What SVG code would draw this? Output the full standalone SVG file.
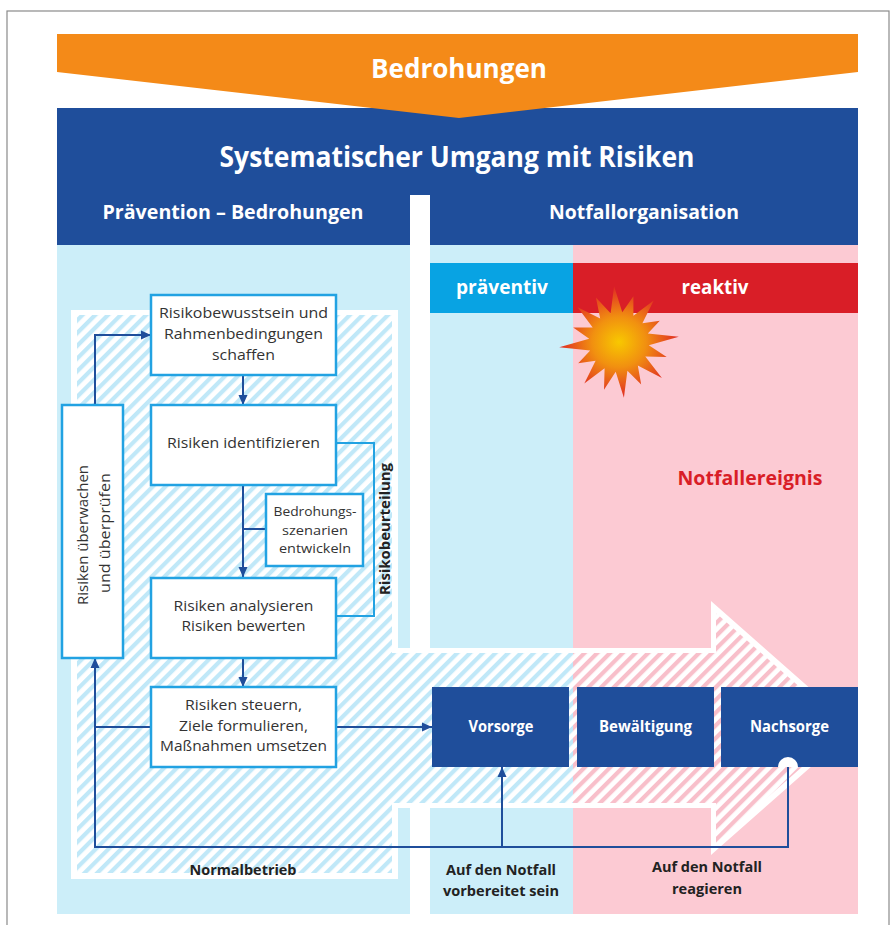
<svg xmlns="http://www.w3.org/2000/svg" width="890" height="925" viewBox="0 0 890 925">
<style>
.t{font-family:"Open Sans","Noto Sans","Liberation Sans",sans-serif;}
.hb{font-weight:bold;fill:#fff;text-anchor:middle;}
.bx{fill:#fff;stroke:#22a2e2;stroke-width:2.5;}
.bt{font-size:15px;fill:#333;text-anchor:middle;}
.sm{font-size:13px;}
.bd{font-weight:bold;fill:#222;text-anchor:middle;font-size:15px;}
.db{fill:#1f4e9b;}
.con{fill:none;stroke:#1f4e9b;stroke-width:2;}
</style>
<defs>
<marker id="ah" markerUnits="userSpaceOnUse" markerWidth="10" markerHeight="10" refX="10" refY="5" orient="auto">
<path d="M0,0.5 L10,5 L0,9.5 Z" fill="#1f4e9b"/>
</marker>
<pattern id="hblue" patternUnits="userSpaceOnUse" width="9" height="9" patternTransform="rotate(45)">
<rect width="9" height="9" fill="#fff"/>
<rect width="4.2" height="9" fill="#c0e8f8"/>
</pattern>
<pattern id="hpink" patternUnits="userSpaceOnUse" width="9" height="9" patternTransform="rotate(45)">
<rect width="9" height="9" fill="#fff"/>
<rect width="4.2" height="9" fill="#f8bfca"/>
</pattern>
<clipPath id="cl"><rect x="0" y="0" width="573" height="925"/></clipPath>
<clipPath id="cr"><rect x="573" y="0" width="317" height="925"/></clipPath>
<radialGradient id="boom" cx="0.5" cy="0.5" r="0.5">
<stop offset="0" stop-color="#f8c800"/>
<stop offset="0.45" stop-color="#f19010"/>
<stop offset="1" stop-color="#e02a24"/>
</radialGradient>
</defs>

<rect x="7" y="11" width="882" height="940" fill="#fff" stroke="#8a8a8a" stroke-width="1.2"/>

<g id="header">
<rect x="57" y="108" width="801" height="137" class="db"/>
<polygon points="57,34 858,34 858,72 459,118 57,72" fill="#f48a18"/>
<rect x="410" y="195" width="20" height="50" fill="#fff"/>
<text class="t hb" x="459" y="78" font-size="26" textLength="176" lengthAdjust="spacingAndGlyphs">Bedrohungen</text>
<text class="t hb" x="457" y="167" font-size="28" textLength="475" lengthAdjust="spacingAndGlyphs">Systematischer Umgang mit Risiken</text>
<text class="t hb" x="233" y="219" font-size="19" textLength="261" lengthAdjust="spacingAndGlyphs">Prävention – Bedrohungen</text>
<text class="t hb" x="644" y="219" font-size="19" textLength="190" lengthAdjust="spacingAndGlyphs">Notfallorganisation</text>
</g>

<g id="panels">
<rect x="57" y="245" width="353" height="669" fill="#cceef9"/>
<rect x="430" y="245" width="143" height="669" fill="#cceef9"/>
<rect x="573" y="245" width="285" height="669" fill="#fccad3"/>
</g>

<g id="praeventiv">
<rect x="430" y="263" width="143" height="50" fill="#08a3e3"/>
<text class="t hb" x="502" y="294" font-size="20" textLength="92" lengthAdjust="spacingAndGlyphs">präventiv</text>
</g>
<g id="reaktiv">
<rect x="573" y="263" width="285" height="50" fill="#d91e27"/>
<text class="t hb" x="715" y="294" font-size="20" textLength="67" lengthAdjust="spacingAndGlyphs">reaktiv</text>
</g>

<g id="explosion">
<polygon fill="url(#boom)" points="614.1,286.2 622.3,312.2 633.4,296.2 633.4,315.7 653.7,300.6 642.4,323.2 659.8,320.8 647.8,333.6 678.8,336.8 648.8,345.3 666.7,357 645.3,356.4 661.9,378 637.8,365.4 641.2,384.6 627.4,370.8 623.9,397.8 615.7,371.8 604,389.7 604.6,368.3 584.3,383.4 595.6,360.8 578.2,363.2 590.2,350.4 559.2,347.2 589.2,338.7 573.2,327.6 592.7,327.6 577.6,307.3 600.2,318.6 595.9,297.6 610.6,313.2"/>
</g>

<g id="notfallereignis">
<text class="t" x="750" y="485" font-size="20" font-weight="bold" fill="#d91e27" text-anchor="middle" textLength="145" lengthAdjust="spacingAndGlyphs">Notfallereignis</text>
</g>

<g id="hatch-area">
<path d="M71,310 H398 V648 H711 V601 L855,728 L711,855 V808 H398 V879 H71 Z" fill="#fff"/>
<path d="M77,315 H392 V653 H716 V613 L846,728 L716,843 V803 H392 V873 H77 Z" fill="url(#hblue)" clip-path="url(#cl)"/>
<path d="M77,315 H392 V653 H716 V613 L846,728 L716,843 V803 H392 V873 H77 Z" fill="url(#hpink)" clip-path="url(#cr)"/>
</g>

<g id="connectors">
<path class="con" d="M243,375 V405" marker-end="url(#ah)"/>
<path class="con" d="M243,485 V577" marker-end="url(#ah)"/>
<path class="con" d="M266,529 H243"/>
<path class="con" d="M243,658 V687" marker-end="url(#ah)"/>
<path class="con" d="M336,727 H432" marker-end="url(#ah)"/>
<path class="con" d="M152,727 H95"/>
<path class="con" d="M788,767 V847 H95 V658" marker-end="url(#ah)"/>
<path class="con" d="M502,847 V767" marker-end="url(#ah)"/>
<path class="con" d="M95,405 V335 H151" marker-end="url(#ah)"/>
<path d="M336,443 H374 V616 H336" fill="none" stroke="#22a2e2" stroke-width="2"/>
</g>

<g id="risikobeurteilung">
<text class="t bd" transform="translate(385,529) rotate(-90)" x="0" y="5" textLength="132" lengthAdjust="spacingAndGlyphs">Risikobeurteilung</text>
</g>

<g id="box1">
<rect class="bx" x="151" y="295" width="185" height="80"/>
<text class="t bt" x="243.5" y="318" textLength="169" lengthAdjust="spacingAndGlyphs">Risikobewusstsein und</text>
<text class="t bt" x="243.5" y="339" textLength="159" lengthAdjust="spacingAndGlyphs">Rahmenbedingungen</text>
<text class="t bt" x="243.5" y="360" textLength="63" lengthAdjust="spacingAndGlyphs">schaffen</text>
</g>
<g id="box2">
<rect class="bx" x="151" y="405" width="185" height="80"/>
<text class="t bt" x="243.5" y="448" textLength="153" lengthAdjust="spacingAndGlyphs">Risiken identifizieren</text>
</g>
<g id="box3">
<rect class="bx" x="266" y="494" width="97" height="72"/>
<text class="t bt sm" x="315" y="516" textLength="83" lengthAdjust="spacingAndGlyphs">Bedrohungs-</text>
<text class="t bt sm" x="315" y="534.5" textLength="66" lengthAdjust="spacingAndGlyphs">szenarien</text>
<text class="t bt sm" x="315" y="553" textLength="72" lengthAdjust="spacingAndGlyphs">entwickeln</text>
</g>
<g id="box4">
<rect class="bx" x="151" y="578" width="185" height="80"/>
<text class="t bt" x="243.5" y="611" textLength="140" lengthAdjust="spacingAndGlyphs">Risiken analysieren</text>
<text class="t bt" x="243.5" y="631" textLength="124" lengthAdjust="spacingAndGlyphs">Risiken bewerten</text>
</g>
<g id="box5">
<rect class="bx" x="151" y="687" width="185" height="80"/>
<text class="t bt" x="243.5" y="710" textLength="117" lengthAdjust="spacingAndGlyphs">Risiken steuern,</text>
<text class="t bt" x="243.5" y="731" textLength="129" lengthAdjust="spacingAndGlyphs">Ziele formulieren,</text>
<text class="t bt" x="243.5" y="751" textLength="167" lengthAdjust="spacingAndGlyphs">Maßnahmen umsetzen</text>
</g>
<g id="box6">
<rect class="bx" x="62" y="405" width="61" height="253"/>
<text class="t bt" transform="translate(83,535) rotate(-90)" x="0" y="5" textLength="140" lengthAdjust="spacingAndGlyphs">Risiken überwachen</text>
<text class="t bt" transform="translate(105,533) rotate(-90)" x="0" y="5" textLength="120" lengthAdjust="spacingAndGlyphs">und überprüfen</text>
</g>

<g id="vorsorge">
<rect class="db" x="432" y="687" width="137" height="80"/>
<text class="t hb" x="501" y="732" font-size="16" textLength="65" lengthAdjust="spacingAndGlyphs">Vorsorge</text>
</g>
<g id="bewaeltigung">
<rect class="db" x="577" y="687" width="137" height="80"/>
<text class="t hb" x="645.5" y="732" font-size="16" textLength="93" lengthAdjust="spacingAndGlyphs">Bewältigung</text>
</g>
<g id="nachsorge">
<rect class="db" x="721" y="687" width="137" height="80"/>
<text class="t hb" x="789.5" y="732" font-size="16" textLength="79" lengthAdjust="spacingAndGlyphs">Nachsorge</text>
<path d="M778,767 A10,10 0 0,1 798,767 Z" fill="#fff"/>
</g>

<g id="labels">
<text class="t bd" x="243" y="875" textLength="107" lengthAdjust="spacingAndGlyphs">Normalbetrieb</text>
<text class="t bd" x="501" y="875" textLength="110" lengthAdjust="spacingAndGlyphs">Auf den Notfall</text>
<text class="t bd" x="501" y="896" textLength="116" lengthAdjust="spacingAndGlyphs">vorbereitet sein</text>
<text class="t bd" x="707" y="872" textLength="110" lengthAdjust="spacingAndGlyphs">Auf den Notfall</text>
<text class="t bd" x="707" y="894" textLength="70" lengthAdjust="spacingAndGlyphs">reagieren</text>
</g>
</svg>
